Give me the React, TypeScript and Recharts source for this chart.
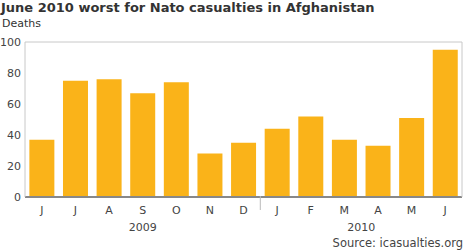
import { BarChart, Bar, XAxis, YAxis, CartesianGrid } from 'recharts'

// Nato deaths per month, June 2009 - June 2010
const months = ['J', 'J', 'A', 'S', 'O', 'N', 'D', 'J', 'F', 'M', 'A', 'M', 'J']
const years = ['2009', '2009', '2009', '2009', '2009', '2009', '2009', '2010', '2010', '2010', '2010', '2010', '2010']
const deaths = [37, 75, 76, 67, 74, 28, 35, 44, 52, 37, 33, 51, 95]
const yTicks = [0, 20, 40, 60, 80, 100]

const data = months.map((m, i) => ({ id: `${years[i]}-${i}`, month: m, year: years[i], deaths: deaths[i] }))

const W = 466
const H = 250
const LEFT = 25
const RIGHT = 4
const band = (W - LEFT - RIGHT) / data.length
const FONT = '"DejaVu Sans", Verdana, sans-serif'

const MonthTick = (props: any) => {
  const { x, y, payload } = props
  const i = payload.index
  const newYear = i > 0 && years[i] !== years[i - 1]
  return (
    <g>
      {newYear && (
        <line x1={x - band / 2} x2={x - band / 2} y1={y - 9} y2={y + 5} stroke="#bbb" strokeWidth={1} />
      )}
      <text x={x} y={y + 9} textAnchor="middle" fontSize={11} fill="#444" fontFamily={FONT}>
        {months[i]}
      </text>
    </g>
  )
}

const YearTick = (props: any) => {
  const { x, y, payload } = props
  const i = payload.index
  if (i > 0 && years[i] === years[i - 1]) return null
  const count = years.filter((yr) => yr === years[i]).length
  return (
    <text x={x + ((count - 1) * band) / 2} y={y + 7} textAnchor="middle" fontSize={11} fill="#444" fontFamily={FONT}>
      {years[i]}
    </text>
  )
}

export default function App() {
  return (
    <div style={{ position: 'absolute', left: 0, top: 0, width: W, height: H, background: '#fff', fontFamily: FONT }}>
      <div style={{ position: 'absolute', left: 1, top: 0, fontSize: 13, fontWeight: 'bold', color: '#333', whiteSpace: 'nowrap' }}>
        June 2010 worst for Nato casualties in Afghanistan
      </div>
      <div style={{ position: 'absolute', left: 2, top: 17, fontSize: 11, color: '#333' }}>Deaths</div>
      <div style={{ position: 'absolute', right: 3, top: 236, fontSize: 11.5, color: '#444' }}>Source: icasualties.org</div>
      <BarChart
        width={W}
        height={H}
        data={data}
        margin={{ top: 42, right: 0, left: 0, bottom: 0 }}
        barCategoryGap="13%"
      >
        <CartesianGrid vertical={false} stroke="#c8c8c8" />
        <XAxis
          dataKey="id"
          xAxisId="month"
          interval={0}
          height={19}
          axisLine={{ stroke: '#888', strokeWidth: 2 }}
          tickLine={false}
          tick={<MonthTick />}
        />
        <XAxis
          dataKey="id"
          xAxisId="year"
          interval={0}
          height={34}
          axisLine={false}
          tickLine={false}
          tick={<YearTick />}
        />
        <YAxis
          yAxisId="left"
          domain={[0, 100]}
          ticks={yTicks}
          width={LEFT}
          axisLine={{ stroke: '#c8c8c8' }}
          tickLine={false}
          tickSize={4}
          tickMargin={0}
          tick={{ fontSize: 11, fill: '#444', fontFamily: FONT }}
        />
        <YAxis yAxisId="right" orientation="right" domain={[0, 100]} width={RIGHT} tick={false} tickLine={false} axisLine={{ stroke: '#c8c8c8' }} />
        <Bar dataKey="deaths" xAxisId="month" yAxisId="left" fill="#fab319" isAnimationActive={false} />
      </BarChart>
    </div>
  )
}
